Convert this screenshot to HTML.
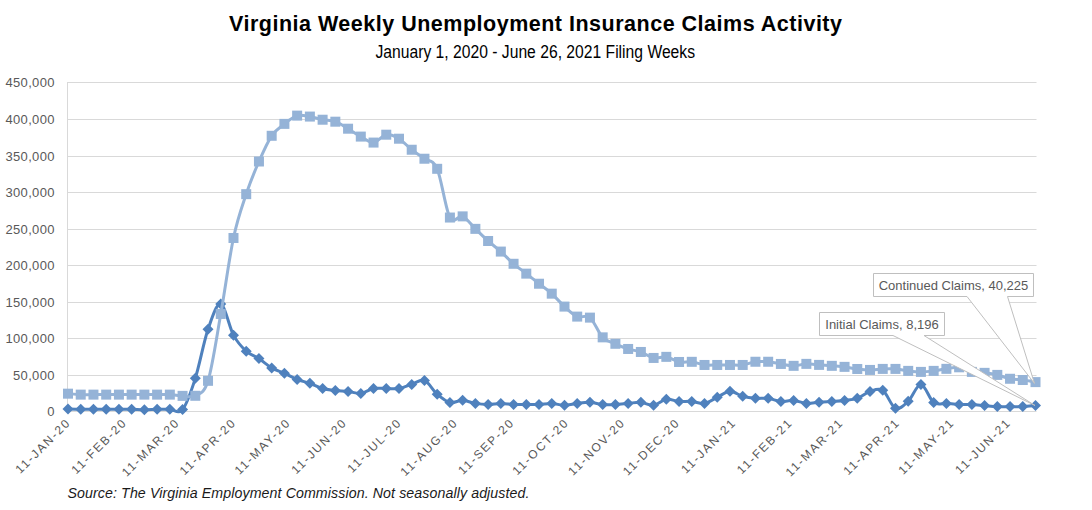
<!DOCTYPE html>
<html><head><meta charset="utf-8">
<style>
html,body{margin:0;padding:0;background:#fff;}
body{width:1092px;height:510px;position:relative;overflow:hidden;font-family:"Liberation Sans",sans-serif;}
.title{font-family:"Liberation Sans",sans-serif;font-weight:bold;font-size:21.5px;fill:#000;}
.sub{font-family:"Liberation Sans",sans-serif;font-size:17.5px;fill:#000;}
.src{font-family:"Liberation Sans",sans-serif;font-style:italic;font-size:14.2px;fill:#1a1a1a;}
.yl{font-family:"Liberation Sans",sans-serif;font-size:13px;letter-spacing:0.33px;fill:#595959;}
.xl{font-family:"Liberation Sans",sans-serif;font-size:12px;fill:#595959;letter-spacing:1.75px;}
.cl{font-family:"Liberation Sans",sans-serif;font-size:13px;fill:#595959;}
</style></head><body>
<svg width="1092" height="510" viewBox="0 0 1092 510" style="position:absolute;left:0;top:0">
<line x1="67" y1="82.5" x2="1036.5" y2="82.5" stroke="#d9d9d9" stroke-width="1"/>
<line x1="67" y1="119.5" x2="1036.5" y2="119.5" stroke="#d9d9d9" stroke-width="1"/>
<line x1="67" y1="156.5" x2="1036.5" y2="156.5" stroke="#d9d9d9" stroke-width="1"/>
<line x1="67" y1="192.5" x2="1036.5" y2="192.5" stroke="#d9d9d9" stroke-width="1"/>
<line x1="67" y1="229.5" x2="1036.5" y2="229.5" stroke="#d9d9d9" stroke-width="1"/>
<line x1="67" y1="265.5" x2="1036.5" y2="265.5" stroke="#d9d9d9" stroke-width="1"/>
<line x1="67" y1="302.5" x2="1036.5" y2="302.5" stroke="#d9d9d9" stroke-width="1"/>
<line x1="67" y1="338.5" x2="1036.5" y2="338.5" stroke="#d9d9d9" stroke-width="1"/>
<line x1="67" y1="375.5" x2="1036.5" y2="375.5" stroke="#d9d9d9" stroke-width="1"/>
<line x1="67" y1="411.5" x2="1036.5" y2="411.5" stroke="#d9d9d9" stroke-width="1"/>
<line x1="67.5" y1="82" x2="67.5" y2="412" stroke="#d9d9d9" stroke-width="1"/>
<text x="54.8" y="87.0" text-anchor="end" class="yl">450,000</text>
<text x="54.8" y="124.0" text-anchor="end" class="yl">400,000</text>
<text x="54.8" y="161.0" text-anchor="end" class="yl">350,000</text>
<text x="54.8" y="197.0" text-anchor="end" class="yl">300,000</text>
<text x="54.8" y="234.0" text-anchor="end" class="yl">250,000</text>
<text x="54.8" y="270.0" text-anchor="end" class="yl">200,000</text>
<text x="54.8" y="307.0" text-anchor="end" class="yl">150,000</text>
<text x="54.8" y="343.0" text-anchor="end" class="yl">100,000</text>
<text x="54.8" y="380.0" text-anchor="end" class="yl">50,000</text>
<text x="54.8" y="416.0" text-anchor="end" class="yl">0</text>
<path d="M68.00,409.09 C70.12,409.11 76.49,409.20 80.73,409.24 C84.97,409.27 89.22,409.30 93.46,409.31 C97.70,409.32 101.95,409.32 106.19,409.31 C110.43,409.30 114.68,409.24 118.92,409.24 C123.16,409.24 127.41,409.24 131.65,409.31 C135.89,409.38 140.14,409.67 144.38,409.67 C148.63,409.67 152.87,409.37 157.11,409.31 C161.36,409.25 165.60,409.27 169.84,409.31 C174.09,409.34 178.33,414.69 182.57,409.53 C186.82,404.36 191.06,391.70 195.30,378.33 C199.55,364.96 203.79,341.68 208.03,329.31 C212.28,316.94 216.52,303.13 220.76,304.11 C225.01,305.08 229.25,327.30 233.49,335.16 C237.74,343.01 241.98,347.33 246.22,351.23 C250.47,355.13 254.71,355.76 258.95,358.53 C263.20,361.31 267.44,365.43 271.68,367.89 C275.93,370.35 280.17,371.36 284.41,373.29 C288.66,375.23 292.90,377.82 297.14,379.50 C301.39,381.18 305.63,381.86 309.88,383.37 C314.12,384.88 318.36,387.38 322.61,388.56 C326.85,389.74 331.09,389.97 335.34,390.46 C339.58,390.95 343.82,391.00 348.07,391.48 C352.31,391.97 356.55,393.88 360.80,393.38 C365.04,392.88 369.28,389.30 373.53,388.49 C377.77,387.67 382.01,388.49 386.26,388.49 C390.50,388.49 394.74,389.17 398.99,388.49 C403.23,387.81 407.47,385.74 411.72,384.40 C415.96,383.06 420.20,378.82 424.45,380.45 C428.69,382.08 432.93,390.51 437.18,394.19 C441.42,397.86 445.66,401.49 449.91,402.51 C454.15,403.54 458.39,400.18 462.64,400.32 C466.88,400.47 471.12,402.71 475.37,403.39 C479.61,404.07 483.86,404.41 488.10,404.41 C492.34,404.41 496.59,403.39 500.83,403.39 C505.07,403.39 509.32,404.23 513.56,404.41 C517.80,404.60 522.05,404.47 526.29,404.49 C530.53,404.50 534.78,404.67 539.02,404.49 C543.26,404.30 547.51,403.24 551.75,403.39 C555.99,403.54 560.24,405.36 564.48,405.36 C568.72,405.36 572.97,403.90 577.21,403.39 C581.45,402.88 585.70,402.11 589.94,402.30 C594.18,402.48 598.43,404.12 602.67,404.49 C606.91,404.85 611.16,404.67 615.40,404.49 C619.64,404.30 623.89,403.76 628.13,403.39 C632.38,403.03 636.62,401.97 640.86,402.30 C645.11,402.62 649.35,405.86 653.59,405.36 C657.84,404.86 662.08,399.96 666.32,399.30 C670.57,398.64 674.81,401.07 679.05,401.42 C683.30,401.77 687.54,401.09 691.78,401.42 C696.03,401.75 700.27,404.07 704.51,403.39 C708.76,402.71 713.00,399.35 717.24,397.33 C721.49,395.31 725.73,391.43 729.97,391.26 C734.22,391.09 738.46,395.12 742.70,396.30 C746.95,397.49 751.19,398.01 755.43,398.35 C759.68,398.69 763.92,397.84 768.16,398.35 C772.41,398.86 776.65,401.08 780.89,401.42 C785.14,401.76 789.38,400.07 793.62,400.40 C797.87,400.72 802.11,403.07 806.36,403.39 C810.60,403.71 814.84,402.62 819.09,402.30 C823.33,401.97 827.57,401.73 831.82,401.42 C836.06,401.10 840.30,400.91 844.55,400.40 C848.79,399.88 853.03,399.85 857.28,398.35 C861.52,396.85 865.76,392.75 870.01,391.41 C874.25,390.07 878.49,387.50 882.74,390.31 C886.98,393.13 891.22,406.46 895.47,408.29 C899.71,410.11 903.95,405.24 908.20,401.27 C912.44,397.30 916.68,384.26 920.93,384.47 C925.17,384.68 929.41,399.36 933.66,402.51 C937.90,405.67 942.14,403.06 946.39,403.39 C950.63,403.72 954.88,404.30 959.12,404.49 C963.36,404.67 967.61,404.30 971.85,404.49 C976.09,404.67 980.34,405.23 984.58,405.58 C988.82,405.94 993.07,406.43 997.31,406.61 C1001.55,406.78 1005.80,406.61 1010.04,406.61 C1014.28,406.61 1018.53,406.79 1022.77,406.61 C1027.01,406.42 1033.38,405.69 1035.50,405.51" fill="none" stroke="#4f81bd" stroke-width="3" stroke-linejoin="round" stroke-linecap="round"/>
<path d="M68.00,403.59 l5.5,5.5 l-5.5,5.5 l-5.5,-5.5 z" fill="#4f81bd"/>
<path d="M80.73,403.74 l5.5,5.5 l-5.5,5.5 l-5.5,-5.5 z" fill="#4f81bd"/>
<path d="M93.46,403.81 l5.5,5.5 l-5.5,5.5 l-5.5,-5.5 z" fill="#4f81bd"/>
<path d="M106.19,403.81 l5.5,5.5 l-5.5,5.5 l-5.5,-5.5 z" fill="#4f81bd"/>
<path d="M118.92,403.74 l5.5,5.5 l-5.5,5.5 l-5.5,-5.5 z" fill="#4f81bd"/>
<path d="M131.65,403.81 l5.5,5.5 l-5.5,5.5 l-5.5,-5.5 z" fill="#4f81bd"/>
<path d="M144.38,404.17 l5.5,5.5 l-5.5,5.5 l-5.5,-5.5 z" fill="#4f81bd"/>
<path d="M157.11,403.81 l5.5,5.5 l-5.5,5.5 l-5.5,-5.5 z" fill="#4f81bd"/>
<path d="M169.84,403.81 l5.5,5.5 l-5.5,5.5 l-5.5,-5.5 z" fill="#4f81bd"/>
<path d="M182.57,404.03 l5.5,5.5 l-5.5,5.5 l-5.5,-5.5 z" fill="#4f81bd"/>
<path d="M195.30,372.83 l5.5,5.5 l-5.5,5.5 l-5.5,-5.5 z" fill="#4f81bd"/>
<path d="M208.03,323.81 l5.5,5.5 l-5.5,5.5 l-5.5,-5.5 z" fill="#4f81bd"/>
<path d="M220.76,298.61 l5.5,5.5 l-5.5,5.5 l-5.5,-5.5 z" fill="#4f81bd"/>
<path d="M233.49,329.66 l5.5,5.5 l-5.5,5.5 l-5.5,-5.5 z" fill="#4f81bd"/>
<path d="M246.22,345.73 l5.5,5.5 l-5.5,5.5 l-5.5,-5.5 z" fill="#4f81bd"/>
<path d="M258.95,353.03 l5.5,5.5 l-5.5,5.5 l-5.5,-5.5 z" fill="#4f81bd"/>
<path d="M271.68,362.39 l5.5,5.5 l-5.5,5.5 l-5.5,-5.5 z" fill="#4f81bd"/>
<path d="M284.41,367.79 l5.5,5.5 l-5.5,5.5 l-5.5,-5.5 z" fill="#4f81bd"/>
<path d="M297.14,374.00 l5.5,5.5 l-5.5,5.5 l-5.5,-5.5 z" fill="#4f81bd"/>
<path d="M309.88,377.87 l5.5,5.5 l-5.5,5.5 l-5.5,-5.5 z" fill="#4f81bd"/>
<path d="M322.61,383.06 l5.5,5.5 l-5.5,5.5 l-5.5,-5.5 z" fill="#4f81bd"/>
<path d="M335.34,384.96 l5.5,5.5 l-5.5,5.5 l-5.5,-5.5 z" fill="#4f81bd"/>
<path d="M348.07,385.98 l5.5,5.5 l-5.5,5.5 l-5.5,-5.5 z" fill="#4f81bd"/>
<path d="M360.80,387.88 l5.5,5.5 l-5.5,5.5 l-5.5,-5.5 z" fill="#4f81bd"/>
<path d="M373.53,382.99 l5.5,5.5 l-5.5,5.5 l-5.5,-5.5 z" fill="#4f81bd"/>
<path d="M386.26,382.99 l5.5,5.5 l-5.5,5.5 l-5.5,-5.5 z" fill="#4f81bd"/>
<path d="M398.99,382.99 l5.5,5.5 l-5.5,5.5 l-5.5,-5.5 z" fill="#4f81bd"/>
<path d="M411.72,378.90 l5.5,5.5 l-5.5,5.5 l-5.5,-5.5 z" fill="#4f81bd"/>
<path d="M424.45,374.95 l5.5,5.5 l-5.5,5.5 l-5.5,-5.5 z" fill="#4f81bd"/>
<path d="M437.18,388.69 l5.5,5.5 l-5.5,5.5 l-5.5,-5.5 z" fill="#4f81bd"/>
<path d="M449.91,397.01 l5.5,5.5 l-5.5,5.5 l-5.5,-5.5 z" fill="#4f81bd"/>
<path d="M462.64,394.82 l5.5,5.5 l-5.5,5.5 l-5.5,-5.5 z" fill="#4f81bd"/>
<path d="M475.37,397.89 l5.5,5.5 l-5.5,5.5 l-5.5,-5.5 z" fill="#4f81bd"/>
<path d="M488.10,398.91 l5.5,5.5 l-5.5,5.5 l-5.5,-5.5 z" fill="#4f81bd"/>
<path d="M500.83,397.89 l5.5,5.5 l-5.5,5.5 l-5.5,-5.5 z" fill="#4f81bd"/>
<path d="M513.56,398.91 l5.5,5.5 l-5.5,5.5 l-5.5,-5.5 z" fill="#4f81bd"/>
<path d="M526.29,398.99 l5.5,5.5 l-5.5,5.5 l-5.5,-5.5 z" fill="#4f81bd"/>
<path d="M539.02,398.99 l5.5,5.5 l-5.5,5.5 l-5.5,-5.5 z" fill="#4f81bd"/>
<path d="M551.75,397.89 l5.5,5.5 l-5.5,5.5 l-5.5,-5.5 z" fill="#4f81bd"/>
<path d="M564.48,399.86 l5.5,5.5 l-5.5,5.5 l-5.5,-5.5 z" fill="#4f81bd"/>
<path d="M577.21,397.89 l5.5,5.5 l-5.5,5.5 l-5.5,-5.5 z" fill="#4f81bd"/>
<path d="M589.94,396.80 l5.5,5.5 l-5.5,5.5 l-5.5,-5.5 z" fill="#4f81bd"/>
<path d="M602.67,398.99 l5.5,5.5 l-5.5,5.5 l-5.5,-5.5 z" fill="#4f81bd"/>
<path d="M615.40,398.99 l5.5,5.5 l-5.5,5.5 l-5.5,-5.5 z" fill="#4f81bd"/>
<path d="M628.13,397.89 l5.5,5.5 l-5.5,5.5 l-5.5,-5.5 z" fill="#4f81bd"/>
<path d="M640.86,396.80 l5.5,5.5 l-5.5,5.5 l-5.5,-5.5 z" fill="#4f81bd"/>
<path d="M653.59,399.86 l5.5,5.5 l-5.5,5.5 l-5.5,-5.5 z" fill="#4f81bd"/>
<path d="M666.32,393.80 l5.5,5.5 l-5.5,5.5 l-5.5,-5.5 z" fill="#4f81bd"/>
<path d="M679.05,395.92 l5.5,5.5 l-5.5,5.5 l-5.5,-5.5 z" fill="#4f81bd"/>
<path d="M691.78,395.92 l5.5,5.5 l-5.5,5.5 l-5.5,-5.5 z" fill="#4f81bd"/>
<path d="M704.51,397.89 l5.5,5.5 l-5.5,5.5 l-5.5,-5.5 z" fill="#4f81bd"/>
<path d="M717.24,391.83 l5.5,5.5 l-5.5,5.5 l-5.5,-5.5 z" fill="#4f81bd"/>
<path d="M729.97,385.76 l5.5,5.5 l-5.5,5.5 l-5.5,-5.5 z" fill="#4f81bd"/>
<path d="M742.70,390.80 l5.5,5.5 l-5.5,5.5 l-5.5,-5.5 z" fill="#4f81bd"/>
<path d="M755.43,392.85 l5.5,5.5 l-5.5,5.5 l-5.5,-5.5 z" fill="#4f81bd"/>
<path d="M768.16,392.85 l5.5,5.5 l-5.5,5.5 l-5.5,-5.5 z" fill="#4f81bd"/>
<path d="M780.89,395.92 l5.5,5.5 l-5.5,5.5 l-5.5,-5.5 z" fill="#4f81bd"/>
<path d="M793.62,394.90 l5.5,5.5 l-5.5,5.5 l-5.5,-5.5 z" fill="#4f81bd"/>
<path d="M806.36,397.89 l5.5,5.5 l-5.5,5.5 l-5.5,-5.5 z" fill="#4f81bd"/>
<path d="M819.09,396.80 l5.5,5.5 l-5.5,5.5 l-5.5,-5.5 z" fill="#4f81bd"/>
<path d="M831.82,395.92 l5.5,5.5 l-5.5,5.5 l-5.5,-5.5 z" fill="#4f81bd"/>
<path d="M844.55,394.90 l5.5,5.5 l-5.5,5.5 l-5.5,-5.5 z" fill="#4f81bd"/>
<path d="M857.28,392.85 l5.5,5.5 l-5.5,5.5 l-5.5,-5.5 z" fill="#4f81bd"/>
<path d="M870.01,385.91 l5.5,5.5 l-5.5,5.5 l-5.5,-5.5 z" fill="#4f81bd"/>
<path d="M882.74,384.81 l5.5,5.5 l-5.5,5.5 l-5.5,-5.5 z" fill="#4f81bd"/>
<path d="M895.47,402.79 l5.5,5.5 l-5.5,5.5 l-5.5,-5.5 z" fill="#4f81bd"/>
<path d="M908.20,395.77 l5.5,5.5 l-5.5,5.5 l-5.5,-5.5 z" fill="#4f81bd"/>
<path d="M920.93,378.97 l5.5,5.5 l-5.5,5.5 l-5.5,-5.5 z" fill="#4f81bd"/>
<path d="M933.66,397.01 l5.5,5.5 l-5.5,5.5 l-5.5,-5.5 z" fill="#4f81bd"/>
<path d="M946.39,397.89 l5.5,5.5 l-5.5,5.5 l-5.5,-5.5 z" fill="#4f81bd"/>
<path d="M959.12,398.99 l5.5,5.5 l-5.5,5.5 l-5.5,-5.5 z" fill="#4f81bd"/>
<path d="M971.85,398.99 l5.5,5.5 l-5.5,5.5 l-5.5,-5.5 z" fill="#4f81bd"/>
<path d="M984.58,400.08 l5.5,5.5 l-5.5,5.5 l-5.5,-5.5 z" fill="#4f81bd"/>
<path d="M997.31,401.11 l5.5,5.5 l-5.5,5.5 l-5.5,-5.5 z" fill="#4f81bd"/>
<path d="M1010.04,401.11 l5.5,5.5 l-5.5,5.5 l-5.5,-5.5 z" fill="#4f81bd"/>
<path d="M1022.77,401.11 l5.5,5.5 l-5.5,5.5 l-5.5,-5.5 z" fill="#4f81bd"/>
<path d="M1035.50,400.01 l5.5,5.5 l-5.5,5.5 l-5.5,-5.5 z" fill="#4f81bd"/>
<path d="M68.00,393.67 C70.12,393.83 76.49,394.47 80.73,394.62 C84.97,394.78 89.22,394.62 93.46,394.62 C97.70,394.62 101.95,394.62 106.19,394.62 C110.43,394.62 114.68,394.62 118.92,394.62 C123.16,394.62 127.41,394.62 131.65,394.62 C135.89,394.62 140.14,394.62 144.38,394.62 C148.63,394.62 152.87,394.62 157.11,394.62 C161.36,394.62 165.60,394.42 169.84,394.62 C174.09,394.83 178.33,395.67 182.57,395.87 C186.82,396.06 191.06,398.30 195.30,395.79 C199.55,393.28 203.79,394.45 208.03,380.82 C212.28,367.18 216.52,337.77 220.76,313.97 C225.01,290.17 229.25,257.96 233.49,237.99 C237.74,218.02 241.98,206.91 246.22,194.16 C250.47,181.41 254.71,171.23 258.95,161.50 C263.20,151.78 267.44,142.06 271.68,135.79 C275.93,129.52 280.17,127.24 284.41,123.88 C288.66,120.52 292.90,116.84 297.14,115.62 C301.39,114.41 305.63,115.89 309.88,116.57 C314.12,117.26 318.36,118.86 322.61,119.72 C326.85,120.57 331.09,120.19 335.34,121.69 C339.58,123.19 343.82,126.22 348.07,128.70 C352.31,131.19 356.55,134.28 360.80,136.59 C365.04,138.91 369.28,142.90 373.53,142.58 C377.77,142.27 382.01,135.34 386.26,134.69 C390.50,134.05 394.74,136.20 398.99,138.71 C403.23,141.22 407.47,146.41 411.72,149.74 C415.96,153.08 420.20,155.55 424.45,158.73 C428.69,161.91 432.93,159.01 437.18,168.81 C441.42,178.61 445.66,209.61 449.91,217.54 C454.15,225.46 458.39,214.48 462.64,216.37 C466.88,218.26 471.12,224.76 475.37,228.86 C479.61,232.96 483.86,237.20 488.10,240.99 C492.34,244.78 496.59,247.78 500.83,251.58 C505.07,255.38 509.32,260.10 513.56,263.78 C517.80,267.46 522.05,270.32 526.29,273.64 C530.53,276.97 534.78,280.39 539.02,283.73 C543.26,287.06 547.51,289.85 551.75,293.66 C555.99,297.47 560.24,302.77 564.48,306.59 C568.72,310.42 572.97,314.76 577.21,316.60 C581.45,318.44 585.70,314.17 589.94,317.62 C594.18,321.08 598.43,332.99 602.67,337.35 C606.91,341.71 611.16,341.84 615.40,343.78 C619.64,345.71 623.89,347.60 628.13,348.96 C632.38,350.33 636.62,350.46 640.86,351.96 C645.11,353.46 649.35,357.13 653.59,357.95 C657.84,358.77 662.08,356.18 666.32,356.85 C670.57,357.52 674.81,361.14 679.05,361.97 C683.30,362.80 687.54,361.32 691.78,361.82 C696.03,362.32 700.27,364.44 704.51,364.96 C708.76,365.49 713.00,364.96 717.24,364.96 C721.49,364.96 725.73,364.96 729.97,364.96 C734.22,364.96 738.46,365.50 742.70,364.96 C746.95,364.43 751.19,362.28 755.43,361.75 C759.68,361.21 763.92,361.38 768.16,361.75 C772.41,362.11 776.65,363.26 780.89,363.94 C785.14,364.62 789.38,365.85 793.62,365.84 C797.87,365.83 802.11,364.03 806.36,363.87 C810.60,363.71 814.84,364.56 819.09,364.89 C823.33,365.22 827.57,365.51 831.82,365.84 C836.06,366.17 840.30,366.34 844.55,366.86 C848.79,367.39 853.03,368.47 857.28,368.98 C861.52,369.49 865.76,369.94 870.01,369.93 C874.25,369.92 878.49,369.08 882.74,368.91 C886.98,368.74 891.22,368.58 895.47,368.91 C899.71,369.24 903.95,370.38 908.20,370.88 C912.44,371.38 916.68,371.90 920.93,371.90 C925.17,371.90 929.41,371.39 933.66,370.88 C937.90,370.37 942.14,369.43 946.39,368.84 C950.63,368.24 954.88,366.79 959.12,367.30 C963.36,367.81 967.61,370.98 971.85,371.90 C976.09,372.83 980.34,372.35 984.58,372.85 C988.82,373.35 993.07,373.91 997.31,374.90 C1001.55,375.89 1005.80,377.92 1010.04,378.77 C1014.28,379.62 1018.53,379.46 1022.77,380.01 C1027.01,380.57 1033.38,381.76 1035.50,382.11" fill="none" stroke="#95b3d7" stroke-width="3" stroke-linejoin="round" stroke-linecap="round"/>
<rect x="63.00" y="388.67" width="10" height="10" fill="#95b3d7"/>
<rect x="75.73" y="389.62" width="10" height="10" fill="#95b3d7"/>
<rect x="88.46" y="389.62" width="10" height="10" fill="#95b3d7"/>
<rect x="101.19" y="389.62" width="10" height="10" fill="#95b3d7"/>
<rect x="113.92" y="389.62" width="10" height="10" fill="#95b3d7"/>
<rect x="126.65" y="389.62" width="10" height="10" fill="#95b3d7"/>
<rect x="139.38" y="389.62" width="10" height="10" fill="#95b3d7"/>
<rect x="152.11" y="389.62" width="10" height="10" fill="#95b3d7"/>
<rect x="164.84" y="389.62" width="10" height="10" fill="#95b3d7"/>
<rect x="177.57" y="390.87" width="10" height="10" fill="#95b3d7"/>
<rect x="190.30" y="390.79" width="10" height="10" fill="#95b3d7"/>
<rect x="203.03" y="375.82" width="10" height="10" fill="#95b3d7"/>
<rect x="215.76" y="308.97" width="10" height="10" fill="#95b3d7"/>
<rect x="228.49" y="232.99" width="10" height="10" fill="#95b3d7"/>
<rect x="241.22" y="189.16" width="10" height="10" fill="#95b3d7"/>
<rect x="253.95" y="156.50" width="10" height="10" fill="#95b3d7"/>
<rect x="266.68" y="130.79" width="10" height="10" fill="#95b3d7"/>
<rect x="279.41" y="118.88" width="10" height="10" fill="#95b3d7"/>
<rect x="292.14" y="110.62" width="10" height="10" fill="#95b3d7"/>
<rect x="304.88" y="111.57" width="10" height="10" fill="#95b3d7"/>
<rect x="317.61" y="114.72" width="10" height="10" fill="#95b3d7"/>
<rect x="330.34" y="116.69" width="10" height="10" fill="#95b3d7"/>
<rect x="343.07" y="123.70" width="10" height="10" fill="#95b3d7"/>
<rect x="355.80" y="131.59" width="10" height="10" fill="#95b3d7"/>
<rect x="368.53" y="137.58" width="10" height="10" fill="#95b3d7"/>
<rect x="381.26" y="129.69" width="10" height="10" fill="#95b3d7"/>
<rect x="393.99" y="133.71" width="10" height="10" fill="#95b3d7"/>
<rect x="406.72" y="144.74" width="10" height="10" fill="#95b3d7"/>
<rect x="419.45" y="153.73" width="10" height="10" fill="#95b3d7"/>
<rect x="432.18" y="163.81" width="10" height="10" fill="#95b3d7"/>
<rect x="444.91" y="212.54" width="10" height="10" fill="#95b3d7"/>
<rect x="457.64" y="211.37" width="10" height="10" fill="#95b3d7"/>
<rect x="470.37" y="223.86" width="10" height="10" fill="#95b3d7"/>
<rect x="483.10" y="235.99" width="10" height="10" fill="#95b3d7"/>
<rect x="495.83" y="246.58" width="10" height="10" fill="#95b3d7"/>
<rect x="508.56" y="258.78" width="10" height="10" fill="#95b3d7"/>
<rect x="521.29" y="268.64" width="10" height="10" fill="#95b3d7"/>
<rect x="534.02" y="278.73" width="10" height="10" fill="#95b3d7"/>
<rect x="546.75" y="288.66" width="10" height="10" fill="#95b3d7"/>
<rect x="559.48" y="301.59" width="10" height="10" fill="#95b3d7"/>
<rect x="572.21" y="311.60" width="10" height="10" fill="#95b3d7"/>
<rect x="584.94" y="312.62" width="10" height="10" fill="#95b3d7"/>
<rect x="597.67" y="332.35" width="10" height="10" fill="#95b3d7"/>
<rect x="610.40" y="338.78" width="10" height="10" fill="#95b3d7"/>
<rect x="623.13" y="343.96" width="10" height="10" fill="#95b3d7"/>
<rect x="635.86" y="346.96" width="10" height="10" fill="#95b3d7"/>
<rect x="648.59" y="352.95" width="10" height="10" fill="#95b3d7"/>
<rect x="661.32" y="351.85" width="10" height="10" fill="#95b3d7"/>
<rect x="674.05" y="356.97" width="10" height="10" fill="#95b3d7"/>
<rect x="686.78" y="356.82" width="10" height="10" fill="#95b3d7"/>
<rect x="699.51" y="359.96" width="10" height="10" fill="#95b3d7"/>
<rect x="712.24" y="359.96" width="10" height="10" fill="#95b3d7"/>
<rect x="724.97" y="359.96" width="10" height="10" fill="#95b3d7"/>
<rect x="737.70" y="359.96" width="10" height="10" fill="#95b3d7"/>
<rect x="750.43" y="356.75" width="10" height="10" fill="#95b3d7"/>
<rect x="763.16" y="356.75" width="10" height="10" fill="#95b3d7"/>
<rect x="775.89" y="358.94" width="10" height="10" fill="#95b3d7"/>
<rect x="788.62" y="360.84" width="10" height="10" fill="#95b3d7"/>
<rect x="801.36" y="358.87" width="10" height="10" fill="#95b3d7"/>
<rect x="814.09" y="359.89" width="10" height="10" fill="#95b3d7"/>
<rect x="826.82" y="360.84" width="10" height="10" fill="#95b3d7"/>
<rect x="839.55" y="361.86" width="10" height="10" fill="#95b3d7"/>
<rect x="852.28" y="363.98" width="10" height="10" fill="#95b3d7"/>
<rect x="865.01" y="364.93" width="10" height="10" fill="#95b3d7"/>
<rect x="877.74" y="363.91" width="10" height="10" fill="#95b3d7"/>
<rect x="890.47" y="363.91" width="10" height="10" fill="#95b3d7"/>
<rect x="903.20" y="365.88" width="10" height="10" fill="#95b3d7"/>
<rect x="915.93" y="366.90" width="10" height="10" fill="#95b3d7"/>
<rect x="928.66" y="365.88" width="10" height="10" fill="#95b3d7"/>
<rect x="941.39" y="363.84" width="10" height="10" fill="#95b3d7"/>
<rect x="954.12" y="362.30" width="10" height="10" fill="#95b3d7"/>
<rect x="966.85" y="366.90" width="10" height="10" fill="#95b3d7"/>
<rect x="979.58" y="367.85" width="10" height="10" fill="#95b3d7"/>
<rect x="992.31" y="369.90" width="10" height="10" fill="#95b3d7"/>
<rect x="1005.04" y="373.77" width="10" height="10" fill="#95b3d7"/>
<rect x="1017.77" y="375.01" width="10" height="10" fill="#95b3d7"/>
<rect x="1030.50" y="377.11" width="10" height="10" fill="#95b3d7"/>
<path d="M873.5,273.5 L1033.5,273.5 L1033.5,296.5 L1007.5,296.5 L1034.5,383.5 L967.0,296.5 L873.5,296.5 Z" fill="#fff" stroke="#bfbfbf" stroke-width="1"/>
<text x="953.5" y="290" text-anchor="middle" class="cl">Continued Claims, 40,225</text>
<path d="M819.5,312.5 L944.5,312.5 L944.5,335.5 L924.0,335.5 L1035.0,405.5 L893.0,335.5 L819.5,335.5 Z" fill="#fff" stroke="#bfbfbf" stroke-width="1"/>
<text x="882" y="329" text-anchor="middle" class="cl">Initial Claims, 8,196</text>
<text transform="translate(71.40,423.3) rotate(-45)" text-anchor="end" class="xl">11-JAN-20</text>
<text transform="translate(127.78,423.3) rotate(-45)" text-anchor="end" class="xl">11-FEB-20</text>
<text transform="translate(180.52,423.3) rotate(-45)" text-anchor="end" class="xl">11-MAR-20</text>
<text transform="translate(236.89,423.3) rotate(-45)" text-anchor="end" class="xl">11-APR-20</text>
<text transform="translate(291.45,423.3) rotate(-45)" text-anchor="end" class="xl">11-MAY-20</text>
<text transform="translate(347.83,423.3) rotate(-45)" text-anchor="end" class="xl">11-JUN-20</text>
<text transform="translate(402.39,423.3) rotate(-45)" text-anchor="end" class="xl">11-JUL-20</text>
<text transform="translate(458.76,423.3) rotate(-45)" text-anchor="end" class="xl">11-AUG-20</text>
<text transform="translate(515.14,423.3) rotate(-45)" text-anchor="end" class="xl">11-SEP-20</text>
<text transform="translate(569.70,423.3) rotate(-45)" text-anchor="end" class="xl">11-OCT-20</text>
<text transform="translate(626.08,423.3) rotate(-45)" text-anchor="end" class="xl">11-NOV-20</text>
<text transform="translate(680.63,423.3) rotate(-45)" text-anchor="end" class="xl">11-DEC-20</text>
<text transform="translate(737.01,423.3) rotate(-45)" text-anchor="end" class="xl">11-JAN-21</text>
<text transform="translate(793.39,423.3) rotate(-45)" text-anchor="end" class="xl">11-FEB-21</text>
<text transform="translate(844.31,423.3) rotate(-45)" text-anchor="end" class="xl">11-MAR-21</text>
<text transform="translate(900.69,423.3) rotate(-45)" text-anchor="end" class="xl">11-APR-21</text>
<text transform="translate(955.24,423.3) rotate(-45)" text-anchor="end" class="xl">11-MAY-21</text>
<text transform="translate(1011.62,423.3) rotate(-45)" text-anchor="end" class="xl">11-JUN-21</text>
<text x="229" y="31" class="title" textLength="613" lengthAdjust="spacing">Virginia Weekly Unemployment Insurance Claims Activity</text>
<text x="375.5" y="58.2" class="sub" textLength="319.5" lengthAdjust="spacingAndGlyphs">January 1, 2020 - June 26, 2021 Filing Weeks</text>
<text x="67.5" y="498" class="src" textLength="462" lengthAdjust="spacing">Source: The Virginia Employment Commission. Not seasonally adjusted.</text>
</svg>
</body></html>
